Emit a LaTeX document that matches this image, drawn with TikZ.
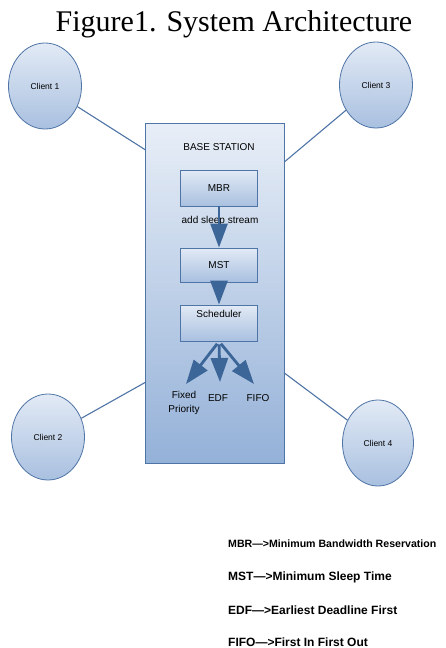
\documentclass[tikz,border=0pt]{standalone}
\usepackage{fontspec}
\setmainfont{Liberation Serif}
\newfontfamily\diafont{Liberation Sans}
\usetikzlibrary{positioning,calc,arrows.meta,shapes.geometric}
\definecolor{edgeblue}{HTML}{4F74A6}
\definecolor{arrowblue}{HTML}{3C6598}
\definecolor{lightblue}{HTML}{E2EAF5}
\definecolor{midblue}{HTML}{A9C0E0}
\definecolor{deepblue}{HTML}{94B1D8}
\tikzset{clientnode/.style={shape=ellipse, draw=edgeblue, thick, top color=lightblue, bottom color=midblue, minimum width=73pt, minimum height=86pt, font=\diafont\fontsize{8.5}{9}\selectfont}}
\tikzset{stationnode/.style={shape=rectangle, draw=edgeblue, thick, top color=lightblue!80!white, bottom color=deepblue, minimum width=139pt, minimum height=340pt}}
\tikzset{blocknode/.style={shape=rectangle, draw=edgeblue, thick, top color=lightblue, bottom color=midblue, minimum width=77pt, minimum height=36pt, font=\diafont\fontsize{10}{11}\selectfont}}
\tikzset{labelnode/.style={font=\diafont\fontsize{10}{11}\selectfont, inner sep=0pt}}
\tikzset{keynode/.style={anchor=west, inner sep=0pt, font=\diafont\bfseries\fontsize{12}{13}\selectfont}}
\tikzset{link/.style={draw=edgeblue, line width=1.1pt}}
\tikzset{fatarrow/.style={draw=arrowblue, line width=2.8pt, -{Triangle[width=17pt,length=24pt]}}}

\begin{document}
\begin{tikzpicture}[x=1pt,y=-1pt]
\useasboundingbox (0,0) rectangle (446,648);
%Title
\node (title) at (234,24) {\fontsize{30}{32}\selectfont Figure1. System Architecture};
%Base station
\node[stationnode] (bs) at (215,293) {};
\node[labelnode] (bslabel) at (219,147) {BASE STATION};
\node[blocknode] (mbr) at (219,188) {MBR};
\node[labelnode] (sleep) at (220,221) {add sleep stream};
\node[blocknode, minimum height=34pt] (mst) at (219,265) {MST};
\node[blocknode, minimum height=36pt, text depth=18pt] (sch) at (219,323) {Scheduler};
%Clients
\node[clientnode] (c1) at (45,86) {Client 1};
\node[clientnode] (c3) at (376,85) {Client 3};
\node[clientnode] (c2) at (48,437) {Client 2};
\node[clientnode, minimum width=71pt] (c4) at (378,443) {Client 4};
%Policies
\node[labelnode, align=center] (fp) at (184,403) {Fixed\\[3pt]Priority};
\node[labelnode] (edf) at (218,398) {EDF};
\node[labelnode] (fifo) at (258,398) {FIFO};
\coordinate (fptip) at (186,384);
\coordinate (edftip) at (220,382);
\coordinate (fifotip) at (254,384);
%Legend
\node[keynode, font=\diafont\bfseries\fontsize{10.6}{12}\selectfont] (k1) at (228,544) {MBR—>Minimum Bandwidth Reservation};
\node[keynode] (k2) at (228,577) {MST—>Minimum Sleep Time};
\node[keynode] (k3) at (228,610) {EDF—>Earliest Deadline First};
\node[keynode] (k4) at (228,642) {FIFO—>First In First Out};
%Lines
\draw[link] (c1) -- (bs.116);
\draw[link] (c3) -- (bs.62);
\draw[link] (c2) -- (bs.232);
\draw[link] (c4) -- (bs.311);
\draw[fatarrow] (mbr) -- (mst);
\draw[fatarrow] (mst) -- (sch);
\draw[fatarrow, shorten <=3pt] (sch.south) -- (fptip);
\draw[fatarrow, shorten <=3pt] (sch.south) -- (edftip);
\draw[fatarrow, shorten <=3pt] (sch.south) -- (fifotip);
\end{tikzpicture}
\end{document}
